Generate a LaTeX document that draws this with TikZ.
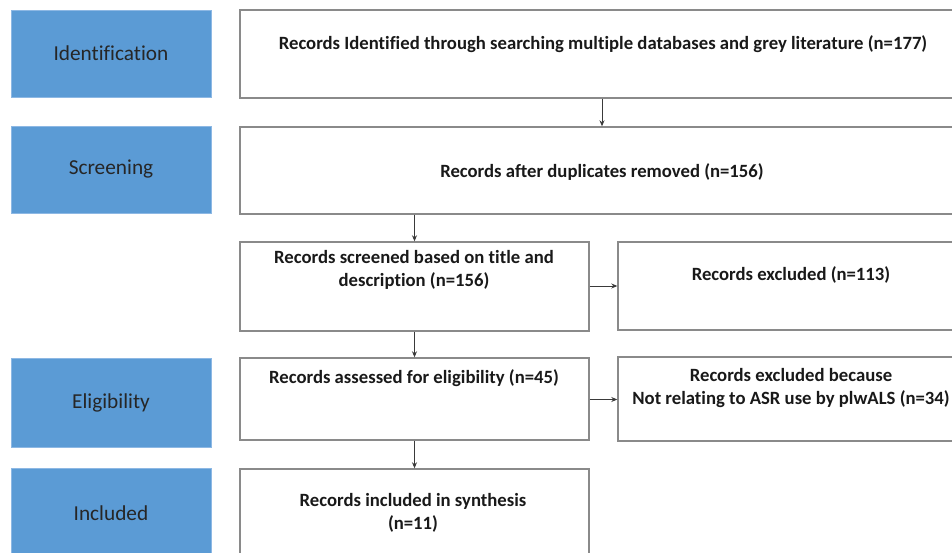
\documentclass[tikz,border=0pt]{standalone}
\usepackage{fontspec}
\setmainfont{Carlito}[Ligatures=NoCommon]
\usetikzlibrary{arrows.meta}
\definecolor{stageblue}{HTML}{5B9BD5}
\definecolor{stageedge}{HTML}{8DB8E4}
\definecolor{boxedge}{HTML}{8A8A8A}
\definecolor{arrowgray}{HTML}{3A3A3A}
\tikzset{
  stage/.style={fill=stageblue, draw=stageedge, line width=0.8pt, minimum width=200pt, minimum height=87pt, inner sep=0pt, font=\fontsize{21.3}{24}\selectfont, text=black!85},
  recbox/.style={draw=boxedge, line width=1.4pt, fill=white, inner sep=0pt},
  rectext/.style={font=\bfseries\fontsize{18.7}{23}\selectfont, align=center, inner sep=0pt, text=black!90},
  flow/.style={draw=arrowgray, line width=0.8pt, -{Stealth[length=6pt,width=5pt]}}
}
\begin{document}
\begin{tikzpicture}[x=1pt,y=-1pt]
\useasboundingbox (0,0) rectangle (952,553);
\clip (0,0) rectangle (952,553);
% stage labels
\node[stage] (sid) at (111,53.5) {Identification};
\node[stage] (ssc) at (111,169.5) {Screening};
\node[stage, minimum height=89pt] (sel) at (111,402.5) {Eligibility};
\node[stage, minimum height=90pt] (sin) at (111,513) {Included};
% record boxes
\node[recbox, minimum width=726pt, minimum height=88pt] (b1) at (603,54) {};
\node[recbox, minimum width=726pt, minimum height=87pt] (b2) at (603,170.5) {};
\node[recbox, minimum width=349pt, minimum height=89pt] (b3) at (414.5,286.5) {};
\node[recbox, minimum width=348pt, minimum height=88pt] (b4) at (792,286) {};
\node[recbox, minimum width=349pt, minimum height=82pt] (b5) at (414.5,399) {};
\node[recbox, minimum width=348pt, minimum height=84pt] (b6) at (792,399) {};
\node[recbox, minimum width=349pt, minimum height=90pt] (b7) at (414.5,514) {};
% texts
\node[rectext] (t1) at (603,44) {Records Identified through searching multiple databases and grey literature (n=177)};
\node[rectext] (t2) at (602,172) {Records after duplicates removed (n=156)};
\node[rectext] (t3) at (414,269.5) {Records screened based on title and\\description (n=156)};
\node[rectext] (t4) at (791,275) {Records excluded (n=113)};
\node[rectext] (t5) at (414,378) {Records assessed for eligibility (n=45)};
\node[rectext] (t6) at (791,388.5) {Records excluded because\\Not relating to ASR use by plwALS (n=34)};
\node[rectext] (t7) at (413,513) {Records included in synthesis\\(n=11)};
% connectors
\draw[flow] (b1.south -| t2.center) -- (b2.north -| t2.center);
\draw[flow] (b2.south -| b3.center) -- (b3.north);
\draw[flow] (b3.south) -- (b5.north);
\draw[flow] (b5.south) -- (b7.north);
\draw[flow] (b3.east |- 0,286) -- (b4.west |- 0,286);
\draw[flow] (b5.east |- 0,399.5) -- (b6.west |- 0,399.5);
\end{tikzpicture}
\end{document}
